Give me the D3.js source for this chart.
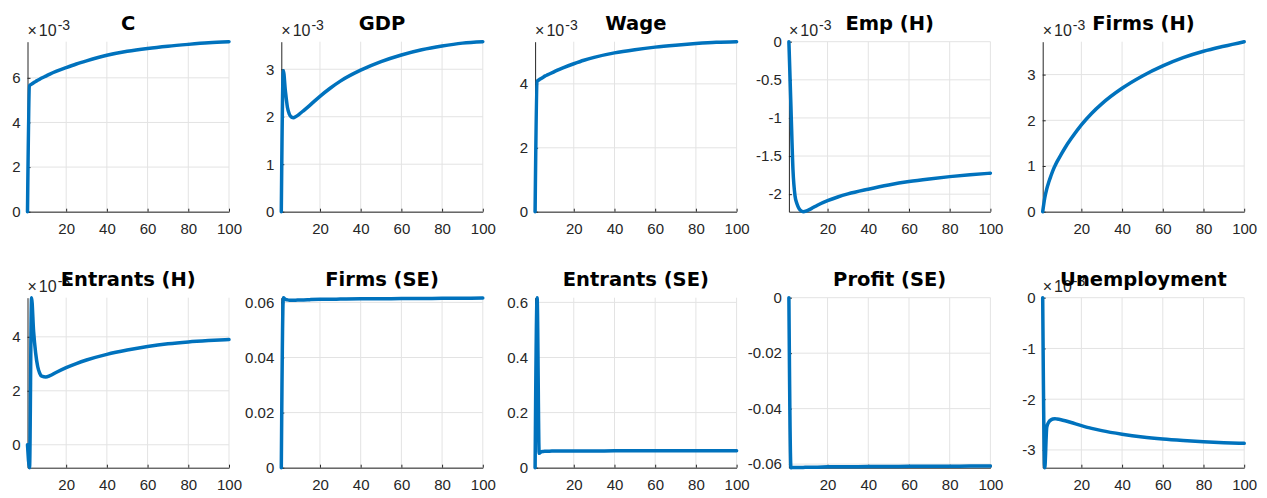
<!DOCTYPE html>
<html>
<head>
<meta charset="utf-8">
<script src="https://cdn.jsdelivr.net/npm/d3@7"></script>
<style>
  body { margin: 0; background: #ffffff; }
  text { font-family: "Liberation Sans", Arial, sans-serif; }
</style>
</head>
<body>
<script>

const periods = [1, 2, 3, 4, 5, 6, 7, 8, 10, 12, 15, 20, 25, 30, 40, 50, 60, 70, 80, 90, 100];

const titles = ["C", "GDP", "Wage", "Emp (H)", "Firms (H)",
                "Entrants (H)", "Firms (SE)", "Entrants (SE)", "Profit (SE)", "Unemployment"];

// exponent shown above each axis (values below are already scaled)
const exponents = ["-3", "-3", "-3", "-3", "-3", "-3", null, null, null, "-3"];

// responses (x10^-3 where an exponent is given)
const cons = [0, 5.65, 5.72, 5.78, 5.84, 5.89, 5.94, 5.99, 6.08, 6.17, 6.29, 6.46, 6.62, 6.76, 7.01, 7.19, 7.32, 7.42, 7.50, 7.57, 7.62];
const gdp = [0, 2.97, 2.55, 2.20, 2.05, 1.99, 1.98, 2.00, 2.06, 2.13, 2.24, 2.43, 2.60, 2.75, 2.98, 3.16, 3.30, 3.41, 3.49, 3.55, 3.58];
const wage = [0, 4.08, 4.13, 4.17, 4.21, 4.25, 4.28, 4.31, 4.37, 4.43, 4.51, 4.63, 4.74, 4.83, 4.97, 5.07, 5.15, 5.21, 5.26, 5.30, 5.32];
const empH = [0, -0.85, -1.68, -2.02, -2.13, -2.19, -2.22, -2.23, -2.215, -2.19, -2.145, -2.085, -2.037, -1.997, -1.935, -1.88, -1.835, -1.80, -1.77, -1.745, -1.725];
const firmsH = [0, 0.30, 0.50, 0.65, 0.78, 0.90, 1.00, 1.09, 1.25, 1.40, 1.60, 1.90, 2.15, 2.36, 2.70, 2.97, 3.19, 3.37, 3.51, 3.62, 3.72];
const entrantsH = [0, -0.85, 5.45, 4.20, 3.40, 2.90, 2.65, 2.54, 2.51, 2.56, 2.68, 2.86, 3.01, 3.14, 3.35, 3.51, 3.64, 3.74, 3.81, 3.86, 3.90];
const firmsSE = [0, 0.0617, 0.0611, 0.0609, 0.0608, 0.0608, 0.0608, 0.0608, 0.0609, 0.0609, 0.0610, 0.0611, 0.0611, 0.0612, 0.0613, 0.0613, 0.0614, 0.0614, 0.0615, 0.0615, 0.0616];
const entrantsSE = [0, 0.617, 0.052, 0.058, 0.059, 0.0595, 0.060, 0.060, 0.0603, 0.0605, 0.0606, 0.0608, 0.0609, 0.0610, 0.0611, 0.0612, 0.0613, 0.0614, 0.0614, 0.0615, 0.0616];
const profitSE = [0, -0.0613, -0.0612, -0.0612, -0.0612, -0.0612, -0.0612, -0.0612, -0.0611, -0.0611, -0.0611, -0.0610, -0.0610, -0.0610, -0.0609, -0.0609, -0.0608, -0.0608, -0.0608, -0.0607, -0.0607];
const unemp = [0, -3.35, -2.55, -2.45, -2.41, -2.39, -2.385, -2.39, -2.405, -2.425, -2.46, -2.52, -2.575, -2.62, -2.69, -2.745, -2.785, -2.815, -2.84, -2.858, -2.87];

const series = [cons, gdp, wage, empH, firmsH, entrantsH, firmsSE, entrantsSE, profitSE, unemp];

// tick values
const xTicks = [20, 40, 60, 80, 100];
const yTicks = [
    [0, 2, 4, 6], [0, 1, 2, 3], [0, 2, 4], [0, -0.5, -1, -1.5, -2], [0, 1, 2, 3],
    [0, 2, 4], [0, 0.02, 0.04, 0.06], [0, 0.2, 0.4, 0.6], [0, -0.02, -0.04, -0.06], [0, -1, -2, -3]
];


/**
 * Sets up the figure and draws the ten panels.
 */
window.onload = function() {
    let dims = {w: 1267, h: 498, left0: 27.5, step: 253.8,
                width: 201.5, height: 170, tops: [41.7, 297.7]};

    let svg = d3.select("body")
                .append("svg")
                .attr("width", dims.w)
                .attr("height", dims.h);

    series.forEach(function(values, i) {
        drawPanel(svg, dims, i);
    });
};


/**
 * Draws one subplot: grid, axes, response line, exponent and title.
 */
function drawPanel(svg, dims, i) {
    let col = i % 5;
    let row = Math.floor(i / 5);
    let left = dims.left0 + col * dims.step;
    let top = dims.tops[row];
    let values = series[i];

    let x = d3.scaleLinear()
              .domain([1, 100])
              .range([0, dims.width]);

    let y = d3.scaleLinear()
              .domain(d3.extent(values))
              .range([dims.height, 0]);

    let g = svg.append("g")
               .attr("transform", "translate(" + left + "," + top + ")");

    // grid lines
    g.append("g")
     .selectAll("line")
     .data(xTicks)
     .enter()
     .append("line")
     .attr("x1", d => x(d))
     .attr("x2", d => x(d))
     .attr("y1", 0)
     .attr("y2", dims.height)
     .attr("stroke", "#e3e3e3")
     .attr("stroke-width", 1);

    g.append("g")
     .selectAll("line")
     .data(yTicks[i])
     .enter()
     .append("line")
     .attr("x1", 0)
     .attr("x2", dims.width)
     .attr("y1", d => y(d))
     .attr("y2", d => y(d))
     .attr("stroke", "#e3e3e3")
     .attr("stroke-width", 1);

    // axes, ticks pointing inwards
    let xAxis = d3.axisBottom(x)
                  .tickValues(xTicks)
                  .tickFormat(d => String(d))
                  .tickSizeInner(-3)
                  .tickSizeOuter(0)
                  .tickPadding(12);

    let yAxis = d3.axisLeft(y)
                  .tickValues(yTicks[i])
                  .tickFormat(d => String(d))
                  .tickSizeInner(-3)
                  .tickSizeOuter(0)
                  .tickPadding(7);

    let gx = g.append("g")
              .attr("transform", "translate(0," + dims.height + ")")
              .call(xAxis);

    let gy = g.append("g")
              .call(yAxis);

    [gx, gy].forEach(function(a) {
        a.select(".domain").attr("stroke", "#262626");
        a.selectAll(".tick line").attr("stroke", "#262626");
        a.selectAll(".tick text")
         .attr("fill", "#262626")
         .style("font-size", "15px")
         .style("font-family", "'Liberation Sans', Arial, sans-serif");
    });

    // response line
    let line = d3.line()
                 .x((d, j) => x(periods[j]))
                 .y(d => y(d))
                 .curve(d3.curveMonotoneX);

    g.append("path")
     .datum(values)
     .attr("d", line)
     .attr("fill", "none")
     .attr("stroke", "#0072BD")
     .attr("stroke-width", 3.5)
     .attr("stroke-linejoin", "round")
     .attr("stroke-linecap", "round");

    // exponent label
    if (exponents[i]) {
        let ex = g.append("text")
                  .attr("x", 0)
                  .attr("y", -6)
                  .attr("fill", "#262626")
                  .style("font-size", "16px");
        ex.append("tspan").text("\u00d7");
        ex.append("tspan").attr("dx", 2).text("10");
        ex.append("tspan")
          .attr("dx", 1)
          .attr("dy", -6)
          .style("font-size", "14px")
          .text(exponents[i]);
    }

    // title
    g.append("text")
     .attr("x", dims.width / 2)
     .attr("y", -12)
     .attr("text-anchor", "middle")
     .attr("fill", "#000000")
     .style("font-family", "'DejaVu Sans', sans-serif")
     .style("font-weight", "bold")
     .style("font-size", "19.5px")
     .text(titles[i]);
}

</script>
</body>
</html>
